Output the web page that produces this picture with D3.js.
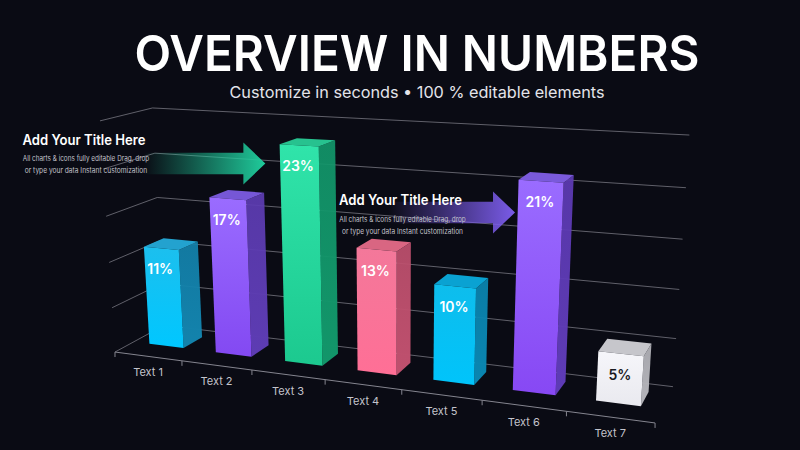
<!DOCTYPE html>
<html><head><meta charset="utf-8">
<script src="https://cdn.jsdelivr.net/npm/d3@7"></script>
<style>html,body{margin:0;padding:0;background:#0a0b14;}svg{display:block}</style>
</head><body>
<svg id="chart" width="800" height="450"></svg>
<script>
// ---------- data ----------
const categories = ["Text 1","Text 2","Text 3","Text 4","Text 5","Text 6","Text 7"];
const values = [11, 17, 23, 13, 10, 21, 5];
const valueLabels = ["11%","17%","23%","13%","10%","21%","5%"];
const gridTicks = [0, 5, 10, 15, 20, 25];
const titleText = "OVERVIEW IN NUMBERS";
const subtitleText = "Customize in seconds • 100 % editable elements";
const noteTitles = ["Add Your Title Here", "Add Your Title Here"];
const noteLines = ["All charts & icons fully editable Drag, drop", "or type your data Instant customization"];

// ---------- styles ----------
const palette = [
  {f1:"#1cbfee", f2:"#00c7ff", side:"#1383ad", top:"#23a2cf", txt:"#ffffff"},
  {f1:"#9a6cff", f2:"#8349f2", side:"#5d3cb3", top:"#7657d6", txt:"#ffffff"},
  {f1:"#30e4aa", f2:"#1cc98f", side:"#12966a", top:"#27c28f", txt:"#ffffff"},
  {f1:"#f3789a", f2:"#ff6f96", side:"#bf506e", top:"#d96682", txt:"#ffffff"},
  {f1:"#0ebdec", f2:"#00c4fb", side:"#0a86b1", top:"#0aa2d2", txt:"#ffffff"},
  {f1:"#9a6cff", f2:"#8748f4", side:"#5e3bb6", top:"#7a5adb", txt:"#ffffff"},
  {f1:"#f6f6fa", f2:"#e9e9ef", side:"#b4b4ba", top:"#c6c6cb", txt:"#1a1a1f"}
];

// ---------- 3D camera (perspective) ----------
const cam = {cx:363, cy:304, f:1281,
  ex:[0.927, 0.099, -0.361], ey:[-0.007, -0.9594, -0.282], ez:[0.374, -0.264, 0.889],
  o:[-193.6, 37.5, 1000]};
function project(X, Y, Z){
  const p = [0,1,2].map(k => cam.o[k] + X*cam.ex[k] + Y*cam.ey[k] + Z*cam.ez[k]);
  return [cam.cx + cam.f*p[0]/p[2], cam.cy + cam.f*p[1]/p[2]];
}
const W = 417.7, H = 180.5, D = 74.8;

const x = d3.scaleBand().domain(categories).range([0, W]).paddingInner(0.48).paddingOuter(0.24);
const y = d3.scaleLinear().domain([0, 25]).range([0, H]);
const z = d3.scaleLinear().domain([0, 1]).range([0, D]);
const zFront = z(0.37), zBack = z(0.77);

const svg = d3.select("#chart");
svg.append("rect").attr("width",800).attr("height",450).attr("fill","#0a0b14");
const defs = svg.append("defs");
const line = d3.line();
const FONT = "Inter, 'Noto Sans', sans-serif";

// ---------- title ----------
svg.append("text").attr("x",417).attr("y",71).attr("text-anchor","middle")
  .attr("font-family",FONT).attr("font-weight",600)
  .attr("font-size",50).attr("fill","#ffffff")
  .attr("textLength",565).attr("lengthAdjust","spacingAndGlyphs").text(titleText);
svg.append("text").attr("x",417).attr("y",98).attr("text-anchor","middle")
  .attr("font-family",FONT).attr("font-weight",400)
  .attr("font-size",16).attr("fill","#e4e4ea")
  .attr("textLength",375).attr("lengthAdjust","spacingAndGlyphs").text(subtitleText);

// ---------- grid ----------
const grid = svg.append("g").attr("stroke","#85858f").attr("stroke-opacity",0.7).attr("stroke-width",1).attr("fill","none");
gridTicks.forEach(t => {
  grid.append("path").attr("d", line([project(0, y(t), D), project(W, y(t), D)]));
  grid.append("path").attr("d", line([project(0, y(t), 0), project(0, y(t), D)]));
});
// front axis
const axisG = svg.append("g").attr("stroke","#85858f").attr("stroke-width",1).attr("fill","none");
axisG.append("path").attr("d", line([project(0,0,0), project(W,0,0)]));
const gap = (x.step()-x.bandwidth())/2;
const boundaries = categories.map(c => x(c) - gap).concat([W]);
boundaries.forEach(b => {
  const p = project(b, 0, 0);
  axisG.append("path").attr("d", line([p, [p[0], p[1]+5]]));
});

// ---------- arrows ----------
function arrow(id, tip, color, bodyLen){
  const hl = 22, hh = 21, bh = 10.8;
  const g = defs.append("linearGradient").attr("id", id).attr("gradientUnits","userSpaceOnUse")
    .attr("x1", tip[0]-hl-bodyLen).attr("y1",0).attr("x2", tip[0]).attr("y2",0);
  g.append("stop").attr("offset",0).attr("stop-color",color).attr("stop-opacity",0);
  g.append("stop").attr("offset",0.55).attr("stop-color",color).attr("stop-opacity",0.55);
  g.append("stop").attr("offset",1).attr("stop-color",color).attr("stop-opacity",1);
  const pts = [
    [tip[0]-hl-bodyLen, tip[1]-bh], [tip[0]-hl, tip[1]-bh], [tip[0]-hl, tip[1]-hh],
    [tip[0], tip[1]], [tip[0]-hl, tip[1]+hh], [tip[0]-hl, tip[1]+bh], [tip[0]-hl-bodyLen, tip[1]+bh]
  ];
  svg.append("path").attr("d", line(pts)+"Z").attr("fill", `url(#${id})`);
}
const b3 = project(x(categories[2]), y(20), zFront);
const b6 = project(x(categories[5]), y(19), zFront);
arrow("arrowGreen", [b3[0]-15, 163.5], "#1fcb9b", 100);
arrow("arrowPurple", [b6[0]-3, 212.5], "#7a5be8", 105);

// ---------- bars ----------
const barsG = svg.append("g");
categories.forEach((c, i) => {
  const x0 = x(c), x1 = x0 + x.bandwidth(), h = y(values[i]);
  const col = palette[i];
  const gid = "fg"+i;
  const lg = defs.append("linearGradient").attr("id",gid).attr("x1",0).attr("y1",0).attr("x2",0).attr("y2",1);
  lg.append("stop").attr("offset",0).attr("stop-color",col.f1);
  lg.append("stop").attr("offset",1).attr("stop-color",col.f2);
  const sid = "sg"+i;
  const sg = defs.append("linearGradient").attr("id",sid).attr("x1",0).attr("y1",0).attr("x2",0).attr("y2",1);
  sg.append("stop").attr("offset",0).attr("stop-color",col.side).attr("stop-opacity",0.92);
  sg.append("stop").attr("offset",1).attr("stop-color",col.side);

  const front = [[x0,0,zFront],[x1,0,zFront],[x1,h,zFront],[x0,h,zFront]].map(p=>project(...p));
  const side  = [[x1,0,zFront],[x1,0,zBack],[x1,h,zBack],[x1,h,zFront]].map(p=>project(...p));
  const top   = [[x0,h,zFront],[x1,h,zFront],[x1,h,zBack],[x0,h,zBack]].map(p=>project(...p));
  const g = barsG.append("g");
  g.append("path").attr("d", line(side)+"Z").attr("fill",`url(#${sid})`);
  g.append("path").attr("d", line(top)+"Z").attr("fill",col.top);
  g.append("path").attr("d", line(front)+"Z").attr("fill",`url(#${gid})`);

  const lp = project((x0+x1)/2, h, zFront);
  g.append("text").attr("x", lp[0]-1).attr("y", lp[1]+26).attr("text-anchor","middle")
    .attr("font-family",FONT).attr("font-weight",600)
    .attr("font-size",14).attr("fill",col.txt).text(valueLabels[i]);

  const cp = project(x(c)+x.bandwidth()/2, 0, 0);
  svg.append("text").attr("x", cp[0]).attr("y", cp[1]+20).attr("text-anchor","middle")
    .attr("font-family",FONT).attr("font-size",11)
    .attr("fill","#c4c4cc").text(c);
});

// ---------- annotations ----------
function note(tx, ty, ti, cxLine, widths){
  svg.append("text").attr("x",tx).attr("y",ty).attr("font-family",FONT)
    .attr("font-weight",600).attr("font-size",14).attr("fill","#ffffff")
    .attr("textLength",123).attr("lengthAdjust","spacingAndGlyphs").text(noteTitles[ti]);
  noteLines.forEach((l, k) => {
    svg.append("text").attr("x",cxLine).attr("y",ty+16.5+k*12.2).attr("text-anchor","middle")
      .attr("font-family",FONT).attr("font-size",7.4).attr("fill","#c2c2ca")
      .attr("textLength",widths[k]).attr("lengthAdjust","spacingAndGlyphs").text(l);
  });
}
note(22.5, 144.5, 0, 86, [126.5, 122.5]);
note(339, 205, 1, 402.5, [126.5, 121]);
</script>
</body></html>
